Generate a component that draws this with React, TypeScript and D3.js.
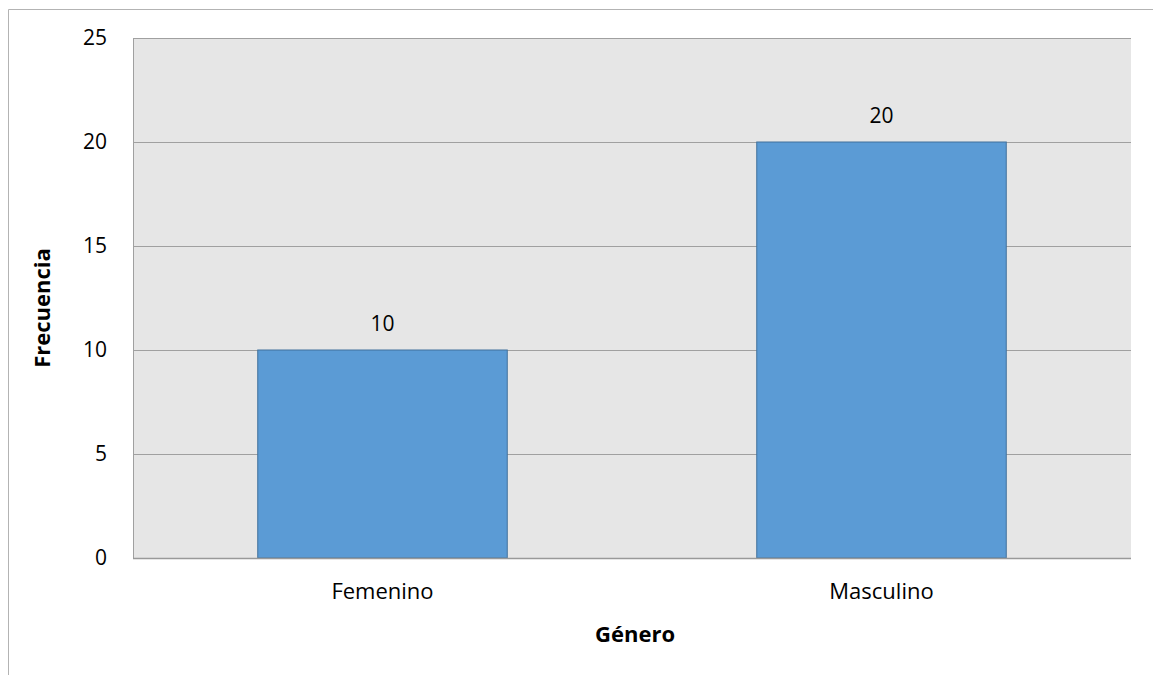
import React from "react";
import * as d3 from "d3";

const categories = ["Femenino", "Masculino"];
const values = [10, 20];
const yTicks = [0, 5, 10, 15, 20, 25];
const yTitle = "Frecuencia";
const xTitle = "Género";

export default function App() {
  const W = 1153, H = 675;
  const left = 133, right = 1131, top = 38, bottom = 558;
  const x = d3.scaleBand<string>().domain(categories).range([left, right]).paddingInner(0.5).paddingOuter(0.25);
  const y = d3.scaleLinear().domain([0, 25]).range([bottom, top]);
  const font = "'Open Sans', 'Noto Sans', sans-serif";
  const fs = 22;
  return (
    <svg width={W} height={H} style={{ position: "absolute", left: 0, top: 0, display: "block" }}>
      <rect x={0} y={0} width={W} height={H} fill="#fff" />
      <path d={`M8.5,${H} V9.5 H${W}`} fill="none" stroke="#b3b3b3" strokeWidth={1} />
      <rect x={left} y={top} width={right - left} height={bottom - top} fill="#e6e6e6" />
      {yTicks.map((t) => (
        <g key={t}>
          {t > 0 && <line x1={left} x2={right} y1={Math.round(y(t)) + 0.5} y2={Math.round(y(t)) + 0.5} stroke="#a0a0a0" strokeWidth={1} />}
          <text x={107} y={y(t)} dy="0.35em" textAnchor="end" fontFamily={font} fontSize={fs - 1} fill="#000">{t}</text>
        </g>
      ))}
      <line x1={left + 0.5} x2={left + 0.5} y1={top} y2={bottom} stroke="#a0a0a0" strokeWidth={1} />
      {categories.map((c, i) => (
        <g key={c}>
          <rect x={x(c)!} y={y(values[i])} width={x.bandwidth()} height={bottom - y(values[i])} fill="#5b9bd5" stroke="#41719c" strokeWidth={1} />
          <text x={x(c)! + x.bandwidth() / 2} y={y(values[i]) - 26} dy="0.35em" textAnchor="middle" fontFamily={font} fontSize={fs - 1} fill="#000">{values[i]}</text>
          <text x={x(c)! + x.bandwidth() / 2} y={591} dy="0.35em" textAnchor="middle" fontFamily={font} fontSize={fs} fill="#000">{c}</text>
        </g>
      ))}
      <line x1={left} x2={right} y1={bottom + 0.5} y2={bottom + 0.5} stroke="#999" strokeWidth={1.5} />
      <text transform={`translate(42,${(top + bottom) / 2 + 10}) rotate(-90)`} dy="0.35em" textAnchor="middle" fontFamily={font} fontSize={fs} fontWeight="bold" fill="#000">{yTitle}</text>
      <text x={635} y={634} dy="0.35em" textAnchor="middle" fontFamily={font} fontSize={fs} fontWeight="bold" fill="#000">{xTitle}</text>
    </svg>
  );
}
